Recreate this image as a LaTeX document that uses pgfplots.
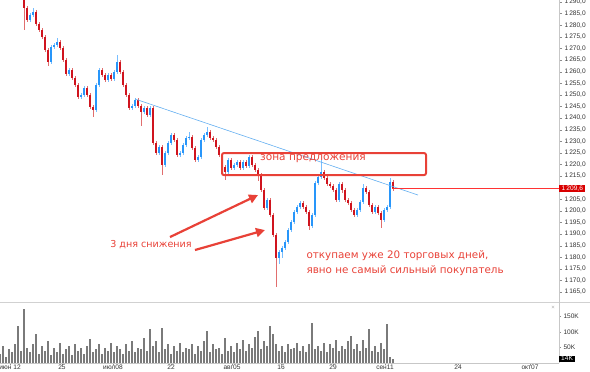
\documentclass[border=0pt]{standalone}
\usepackage{pgfplots}
\usepackage{pgfplotstable}
\pgfplotsset{compat=1.18}
\usepackage{fontspec}
\setmainfont{Liberation Sans}
\newfontfamily\annfont{DejaVu Sans}
\usetikzlibrary{arrows.meta}
\definecolor{upC}{RGB}{40,150,250}
\definecolor{upW}{RGB}{120,190,255}
\definecolor{dnC}{RGB}{208,20,30}
\definecolor{dnW}{RGB}{225,110,110}
\definecolor{annR}{RGB}{232,65,55}
\definecolor{trendC}{RGB}{100,175,240}

\pgfplotstableread{
x o h l c
24 1292.0 1293.0 1278.0 1287.4
27 1287.4 1288.4 1281.2 1282.2
30 1282.2 1285.4 1281.2 1284.4
33 1284.4 1287.5 1283.4 1285.7
36 1285.7 1286.7 1279.5 1280.5
39 1280.5 1281.5 1276.9 1277.9
42 1277.9 1278.9 1273.9 1274.9
45 1274.9 1275.9 1268.3 1269.3
48 1269.3 1270.3 1262.6 1264.1
51 1264.1 1271.6 1263.1 1270.6
54 1270.6 1272.5 1269.6 1271.5
57 1271.5 1274.5 1270.5 1272.8
60 1272.8 1273.8 1269.2 1270.2
63 1270.2 1271.2 1264.0 1265.0
66 1265.0 1266.0 1258.0 1259.0
69 1259.0 1261.7 1258.0 1260.7
72 1260.7 1261.7 1256.2 1257.2
75 1257.2 1258.2 1253.2 1254.2
78 1254.2 1255.2 1248.1 1249.1
81 1249.1 1250.9 1248.1 1249.9
84 1249.9 1254.0 1248.9 1253.0
87 1253.0 1254.0 1248.9 1249.9
90 1249.9 1250.9 1243.7 1244.7
93 1244.7 1245.7 1240.4 1243.4
96 1243.4 1255.2 1242.4 1254.2
99 1254.2 1261.7 1253.2 1260.7
102 1260.7 1261.7 1257.5 1258.5
105 1258.5 1259.5 1255.4 1256.4
108 1256.4 1259.5 1255.4 1258.5
111 1258.5 1259.5 1255.8 1256.8
114 1256.8 1260.8 1255.8 1259.8
117 1259.8 1267.2 1258.8 1264.1
120 1264.1 1265.1 1258.8 1259.8
123 1259.8 1260.8 1253.2 1254.2
126 1254.2 1255.2 1248.9 1249.9
129 1249.9 1250.9 1243.3 1244.3
132 1244.3 1246.2 1243.3 1245.2
135 1245.2 1248.8 1244.2 1247.8
138 1247.8 1248.8 1244.2 1245.2
141 1245.2 1246.2 1236.5 1242.6
144 1242.6 1245.3 1241.6 1244.3
147 1244.3 1245.3 1240.3 1241.3
150 1241.3 1245.3 1240.3 1244.3
153 1244.3 1245.3 1228.2 1229.2
156 1229.2 1230.2 1223.9 1224.9
159 1224.9 1228.5 1223.9 1227.5
162 1227.5 1228.5 1215.4 1219.7
165 1219.7 1225.9 1218.7 1224.9
168 1224.9 1230.2 1223.9 1229.2
171 1229.2 1233.7 1228.2 1232.7
174 1232.7 1233.7 1229.5 1230.5
177 1230.5 1231.5 1223.0 1224.0
180 1224.0 1225.9 1223.0 1224.9
183 1224.9 1229.4 1223.9 1228.4
186 1228.4 1232.4 1227.4 1231.4
189 1231.4 1233.8 1230.4 1231.8
192 1231.8 1232.8 1226.1 1227.1
195 1227.1 1228.1 1220.9 1221.9
198 1221.9 1224.2 1220.9 1223.2
201 1223.2 1231.5 1222.2 1230.5
204 1230.5 1233.7 1229.5 1232.7
207 1232.7 1236.1 1231.7 1234.0
210 1234.0 1235.0 1230.4 1231.4
213 1231.4 1232.4 1229.5 1230.5
216 1230.5 1231.5 1226.5 1227.5
219 1227.5 1228.5 1223.0 1224.0
222 1224.0 1225.0 1217.9 1218.9
225 1218.9 1219.9 1213.3 1216.7
228 1216.7 1222.9 1215.7 1221.9
231 1221.9 1222.9 1217.4 1218.4
234 1218.4 1220.7 1217.4 1219.7
237 1219.7 1222.0 1218.7 1221.0
240 1221.0 1222.0 1217.4 1218.4
243 1218.4 1222.0 1217.4 1221.0
246 1221.0 1222.0 1218.3 1219.3
249 1219.3 1224.2 1218.3 1223.2
252 1223.2 1224.2 1218.7 1219.7
255 1219.7 1220.7 1216.6 1217.6
258 1217.6 1218.6 1213.0 1215.4
261 1215.4 1216.4 1208.0 1209.0
264 1209.0 1210.0 1200.2 1201.2
267 1201.2 1205.7 1200.2 1204.7
270 1204.7 1205.7 1197.2 1198.2
273 1198.2 1199.2 1188.6 1189.6
276 1189.6 1190.6 1167.2 1179.7
279 1179.7 1183.2 1177.0 1182.2
282 1182.2 1185.0 1179.5 1184.0
285 1184.0 1187.5 1183.0 1186.5
288 1186.5 1192.7 1185.5 1191.7
291 1191.7 1196.2 1190.7 1195.2
294 1195.2 1200.5 1194.2 1199.5
297 1199.5 1202.6 1198.5 1201.6
300 1201.6 1204.4 1200.6 1203.4
303 1203.4 1204.4 1200.6 1201.6
306 1201.6 1202.6 1198.5 1199.5
309 1199.5 1200.5 1191.7 1193.5
312 1193.5 1199.2 1192.5 1198.2
315 1198.2 1213.0 1197.2 1212.0
318 1212.0 1215.6 1211.0 1214.6
321 1214.6 1221.9 1213.6 1216.7
324 1216.7 1217.7 1213.1 1214.1
327 1214.1 1215.1 1210.5 1211.5
330 1211.5 1212.5 1209.7 1210.7
333 1210.7 1211.7 1207.9 1208.9
336 1208.9 1209.9 1203.7 1204.7
339 1204.7 1212.5 1203.7 1211.5
342 1211.5 1212.5 1207.9 1208.9
345 1208.9 1209.9 1203.7 1204.7
348 1204.7 1205.7 1202.4 1203.4
351 1203.4 1204.4 1199.3 1200.3
354 1200.3 1201.3 1197.2 1198.2
357 1198.2 1201.3 1197.2 1200.3
360 1200.3 1204.8 1199.3 1203.8
363 1203.8 1211.5 1202.8 1209.8
366 1209.8 1210.8 1207.1 1208.1
369 1208.1 1209.1 1201.5 1202.5
372 1202.5 1203.5 1198.5 1199.5
375 1199.5 1202.6 1198.5 1201.6
378 1201.6 1202.6 1198.0 1199.0
381 1199.0 1200.0 1192.6 1196.0
384 1196.0 1201.3 1195.0 1200.3
387 1200.3 1202.6 1199.3 1201.6
390 1201.6 1214.1 1200.6 1212.4
393 1212.4 1213.4 1208.6 1209.6
}\candles

\pgfplotstableread{
x v
0 30
3 55
6 20
9 45
12 35
15 60
18 118
21 40
24 174
27 50
30 35
33 60
36 94
39 30
42 55
45 40
48 71
51 25
54 50
57 35
60 65
63 30
66 45
69 55
72 25
75 60
78 40
81 50
84 30
87 55
90 77
93 35
96 45
99 60
102 30
105 50
108 40
111 65
114 35
117 55
120 45
123 30
126 60
129 40
132 70
135 35
138 50
141 45
144 80
147 40
150 110
153 55
156 70
159 35
162 113
165 45
168 60
171 30
174 55
177 40
180 65
183 35
186 50
189 45
192 60
195 30
198 55
201 40
204 70
207 103
210 35
213 60
216 45
219 50
222 30
225 80
228 40
231 55
234 35
237 65
240 45
243 75
246 40
249 60
252 50
255 85
258 103
261 45
264 70
267 55
270 119
273 95
276 60
279 40
282 55
285 35
288 60
291 45
294 50
297 65
300 40
303 55
306 35
309 60
312 129
315 45
318 55
321 40
324 65
327 35
330 60
333 50
336 75
339 40
342 55
345 45
348 70
351 87
354 45
357 60
360 40
363 75
366 50
369 110
372 40
375 55
378 35
381 65
384 45
387 126
390 20
393 14
}\volumes

\pgfplotsset{
  candle/.style n args={2}{only marks, mark=*, mark size=0pt, mark options={draw=none, fill=none}, forget plot,
    error bars/.cd, y dir=both, y explicit, error mark=none,
    error bar style={line width=#2, draw=#1, solid}, /pgfplots/.cd},
}

\begin{document}
\begin{tikzpicture}
\useasboundingbox (0,0) rectangle (590bp,-372bp);
\begin{axis}[
  at={(0,0)}, anchor=north west,
  scale only axis, width=559bp, height=302bp,
  xmin=0, xmax=559, ymin=1160.7, ymax=1290.86,
  axis x line=none, axis y line*=right,
  axis line style={black!22},
  clip mode=individual,
  ytick={1165,1170,1175,1180,1185,1190,1195,1200,1205,1215,1220,1225,1230,1235,1240,1245,1250,1255,1260,1265,1270,1275,1280,1285,1290},
  tick align=outside, major tick length=3bp, tick style={black!45},
  yticklabel style={font=\fontsize{6.6}{7}\selectfont, text=black!80, xshift=-1bp},
  /pgf/number format/.cd, fixed, fixed zerofill, precision=1, use comma, 1000 sep={\,}, assume math mode=true,
]
% wicks
\addplot[restrict expr to domain={\thisrow{c}-\thisrow{o}}{0:1000}, candle={upW}{0.7bp}]
  table[x=x, y expr={(\thisrow{h}+\thisrow{l})/2}, y error expr={(\thisrow{h}-\thisrow{l})/2}] {\candles};
\addplot[restrict expr to domain={\thisrow{c}-\thisrow{o}}{-1000:-0.001}, candle={dnW}{0.7bp}]
  table[x=x, y expr={(\thisrow{h}+\thisrow{l})/2}, y error expr={(\thisrow{h}-\thisrow{l})/2}] {\candles};
% bodies
\addplot[restrict expr to domain={\thisrow{c}-\thisrow{o}}{0:1000}, candle={upC}{2.2bp}]
  table[x=x, y expr={(\thisrow{o}+\thisrow{c})/2}, y error expr={abs(\thisrow{c}-\thisrow{o})/2}] {\candles};
\addplot[restrict expr to domain={\thisrow{c}-\thisrow{o}}{-1000:-0.001}, candle={dnC}{2.2bp}]
  table[x=x, y expr={(\thisrow{o}+\thisrow{c})/2}, y error expr={abs(\thisrow{c}-\thisrow{o})/2}] {\candles};

% trend line
\draw[trendC, line width=0.6bp] (axis cs:135,1248.2) -- (axis cs:418,1206.8);
% current price line
\draw[red!80, line width=0.5bp] (axis cs:392,1209.6) -- (axis cs:559,1209.6);
\node[fill=red!85!black, text=white, inner xsep=2.5bp, inner ysep=1bp, anchor=west, font=\fontsize{6.6}{7}\selectfont] at (axis cs:559,1209.6) {1\,209,6};
% supply zone
\draw[annR, line width=2bp, rounded corners=2bp] (axis cs:222,1224.9) rectangle (axis cs:426,1215.4);
\node[annR, font=\annfont\fontsize{10.6}{12}\selectfont] at (axis cs:313,1222.3) {зона предложения};
% arrows
\draw[annR, line width=2.2bp, -{Triangle[length=9bp,width=9bp]}] (axis cs:170,1188.7) -- (axis cs:258,1206.8);
\draw[annR, line width=2.2bp, -{Triangle[length=9bp,width=9bp]}] (axis cs:195,1183.1) -- (axis cs:265,1191.7);
\node[annR, font=\annfont\fontsize{9.6}{11}\selectfont] at (axis cs:151,1185.3) {3 дня снижения};
\node[annR, anchor=west, font=\annfont\fontsize{10.4}{12}\selectfont] at (axis cs:303,1180.5) {откупаем уже 20 торговых дней,};
\node[annR, anchor=west, font=\annfont\fontsize{10.4}{12}\selectfont] at (axis cs:303,1174.1) {явно не самый сильный покупатель};
\end{axis}

\draw[black!18, line width=0.8bp] (0,-302bp) -- (590bp,-302bp);

\begin{axis}[
  at={(0,-302bp)}, anchor=north west,
  scale only axis, width=559bp, height=61bp,
  xmin=0, xmax=559, ymin=0, ymax=197,
  axis x line*=bottom, axis y line*=right,
  axis line style={black!22},
  clip mode=individual,
  xtick={10,62,113,171,232,281,333,385,458,530},
  xticklabels={июн 12,25,июл08,22,авг05,16,29,сен11,24,окт07},
  ytick={50,100,150}, yticklabels={50K,100K,150K},
  tick align=outside, major tick length=2bp, tick style={black!45},
  yticklabel style={font=\fontsize{6.6}{7}\selectfont, text=black!80, xshift=-1bp},
  xticklabel style={font=\fontsize{6.6}{7}\selectfont, text=black!80, inner sep=0.5bp, yshift=1bp},
]
\addplot[ycomb, line width=1.5bp, black!52] table[x=x, y=v] {\volumes};
\node[fill=black, text=white, inner xsep=2bp, inner ysep=0.8bp, anchor=west, font=\fontsize{6.6}{7}\selectfont] at (axis cs:559,14) {14K};
\node[black!35, font=\fontsize{6}{7}\selectfont] at (axis cs:553,178) {×};
\end{axis}
\end{tikzpicture}
\end{document}
